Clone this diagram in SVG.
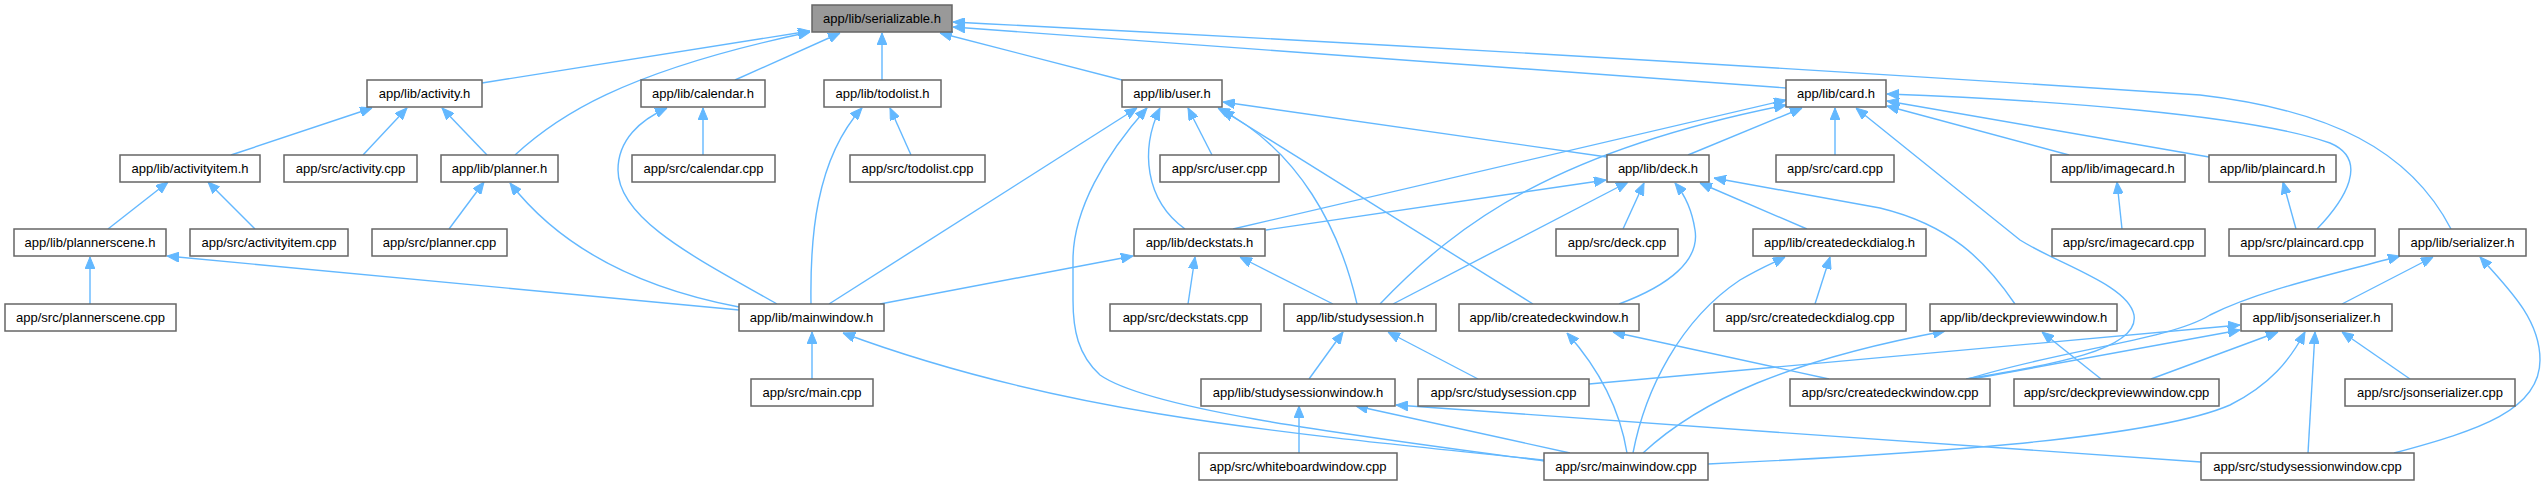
<svg xmlns="http://www.w3.org/2000/svg" width="2545" height="485" viewBox="0 0 2545 485">
<style>
.n rect{fill:#fff;stroke:#666;stroke-width:1.5}
.n.root rect{fill:#999}
.n text{font-family:"Liberation Sans",Arial,sans-serif;font-size:13px;fill:#000;text-anchor:middle}
.e path{fill:none;stroke:#63b8ff;stroke-width:1.4;marker-end:url(#ah)}
</style>
<defs>
<marker id="ah" markerUnits="userSpaceOnUse" markerWidth="12" markerHeight="10" viewBox="0 0 12 10" refX="12" refY="5" orient="auto">
<path d="M0,0 L12,5 L0,10 z" fill="#63b8ff" stroke="#63b8ff" stroke-width="1"/>
</marker>
</defs>
<rect width="2545" height="485" fill="#fff"/>
<g id="edges" class="e">
<path d="M482,83 L810,31"/>
<path d="M515,155 C555,118 620,72 810,32"/>
<path d="M735,80 L840,33"/>
<path d="M882,80 L882,33"/>
<path d="M1122,80 L940,33"/>
<path d="M1786,88 L953,27"/>
<path d="M2451,229 C2410,150 2330,110 2200,95 C2050,85 1600,55 953,22"/>
<path d="M231,155 L372,108"/>
<path d="M363,155 L407,108"/>
<path d="M487,155 L442,108"/>
<path d="M108,229 L168,182"/>
<path d="M255,229 L208,182"/>
<path d="M449,229 L484,182"/>
<path d="M739,307 C660,292 570,260 510,183"/>
<path d="M90,304 L90,257"/>
<path d="M739,310 L167,256"/>
<path d="M703,155 L703,108"/>
<path d="M777,304 C700,260 618,220 618,170 C618,140 640,120 667,108"/>
<path d="M911,155 L890,108"/>
<path d="M811,304 C810,240 815,160 862,108"/>
<path d="M829,304 L1137,108"/>
<path d="M1544,461 C1350,435 1150,410 1100,375 C1078,355 1073,330 1073,300 L1073,260 C1073,210 1105,155 1147,108"/>
<path d="M1185,229 C1145,200 1140,150 1160,108"/>
<path d="M1212,155 L1188,108"/>
<path d="M1357,304 C1340,230 1300,150 1218,108"/>
<path d="M1533,304 L1222,110"/>
<path d="M1607,157 L1223,102"/>
<path d="M880,304 L1133,256"/>
<path d="M812,379 L812,332"/>
<path d="M1544,460 C1250,430 1050,410 843,333"/>
<path d="M1188,304 L1195,257"/>
<path d="M1333,304 L1240,257"/>
<path d="M1233,229 L1786,100"/>
<path d="M1380,304 C1460,220 1560,150 1786,105"/>
<path d="M1688,155 L1802,108"/>
<path d="M1835,155 L1835,108"/>
<path d="M2069,155 L1887,106"/>
<path d="M2209,157 L1887,101"/>
<path d="M2317,229 C2345,200 2370,160 2330,143 C2250,115 2050,100 1887,94"/>
<path d="M1966,379 C2050,365 2140,350 2134,315 C2128,285 2060,265 2020,240 L1856,108"/>
<path d="M1266,230 L1606,180"/>
<path d="M1393,304 L1628,182"/>
<path d="M1623,229 L1644,183"/>
<path d="M1619,304 C1670,285 1700,260 1695,230 C1692,210 1685,195 1675,183"/>
<path d="M1807,229 L1700,183"/>
<path d="M2015,304 C1985,260 1950,225 1880,208 L1714,178"/>
<path d="M2122,229 L2117,182"/>
<path d="M2296,229 L2283,182"/>
<path d="M1309,379 L1343,332"/>
<path d="M1478,379 L1388,332"/>
<path d="M1627,453 C1620,410 1600,370 1567,333"/>
<path d="M1829,379 L1613,332"/>
<path d="M1815,304 L1830,257"/>
<path d="M1633,453 C1645,390 1680,320 1740,280 C1760,268 1775,262 1785,257"/>
<path d="M1299,453 L1299,406"/>
<path d="M1570,453 L1356,406"/>
<path d="M2201,462 C2000,448 1600,420 1396,405"/>
<path d="M1643,453 C1700,400 1790,360 1945,331"/>
<path d="M2101,379 L2042,332"/>
<path d="M1968,379 C2060,350 2170,340 2210,315 C2260,290 2330,275 2400,256"/>
<path d="M2342,304 L2433,257"/>
<path d="M2394,453 C2480,430 2540,410 2540,360 C2540,320 2510,290 2480,257"/>
<path d="M1972,379 L2240,330"/>
<path d="M1589,384 L2240,325"/>
<path d="M2151,379 L2278,332"/>
<path d="M1708,464 C1900,455 2150,440 2230,405 C2270,385 2290,360 2305,332"/>
<path d="M2308,453 L2315,332"/>
<path d="M2410,379 L2342,332"/>
</g>
<g id="n_serializable" class="n root"><rect x="812" y="5" width="140" height="27"/><text x="882" y="23">app/lib/serializable.h</text></g>
<g id="n_activity_h" class="n"><rect x="367" y="80" width="115" height="27"/><text x="424.5" y="98">app/lib/activity.h</text></g>
<g id="n_calendar_h" class="n"><rect x="641" y="80" width="124" height="27"/><text x="703" y="98">app/lib/calendar.h</text></g>
<g id="n_todolist_h" class="n"><rect x="824" y="80" width="117" height="27"/><text x="882.5" y="98">app/lib/todolist.h</text></g>
<g id="n_user_h" class="n"><rect x="1122" y="80" width="100" height="27"/><text x="1172" y="98">app/lib/user.h</text></g>
<g id="n_card_h" class="n"><rect x="1786" y="80" width="100" height="27"/><text x="1836" y="98">app/lib/card.h</text></g>
<g id="n_activityitem_h" class="n"><rect x="120" y="155" width="140" height="27"/><text x="190" y="173">app/lib/activityitem.h</text></g>
<g id="n_activity_cpp" class="n"><rect x="284" y="155" width="133" height="27"/><text x="350.5" y="173">app/src/activity.cpp</text></g>
<g id="n_planner_h" class="n"><rect x="441" y="155" width="117" height="27"/><text x="499.5" y="173">app/lib/planner.h</text></g>
<g id="n_calendar_cpp" class="n"><rect x="632" y="155" width="143" height="27"/><text x="703.5" y="173">app/src/calendar.cpp</text></g>
<g id="n_todolist_cpp" class="n"><rect x="850" y="155" width="135" height="27"/><text x="917.5" y="173">app/src/todolist.cpp</text></g>
<g id="n_user_cpp" class="n"><rect x="1160" y="155" width="119" height="27"/><text x="1219.5" y="173">app/src/user.cpp</text></g>
<g id="n_deck_h" class="n"><rect x="1607" y="155" width="102" height="27"/><text x="1658" y="173">app/lib/deck.h</text></g>
<g id="n_card_cpp" class="n"><rect x="1776" y="155" width="118" height="27"/><text x="1835" y="173">app/src/card.cpp</text></g>
<g id="n_imagecard_h" class="n"><rect x="2051" y="155" width="134" height="27"/><text x="2118" y="173">app/lib/imagecard.h</text></g>
<g id="n_plaincard_h" class="n"><rect x="2209" y="155" width="127" height="27"/><text x="2272.5" y="173">app/lib/plaincard.h</text></g>
<g id="n_plannerscene_h" class="n"><rect x="14" y="229" width="152" height="27"/><text x="90" y="247">app/lib/plannerscene.h</text></g>
<g id="n_activityitem_cpp" class="n"><rect x="190" y="229" width="158" height="27"/><text x="269" y="247">app/src/activityitem.cpp</text></g>
<g id="n_planner_cpp" class="n"><rect x="372" y="229" width="135" height="27"/><text x="439.5" y="247">app/src/planner.cpp</text></g>
<g id="n_deckstats_h" class="n"><rect x="1134" y="229" width="131" height="27"/><text x="1199.5" y="247">app/lib/deckstats.h</text></g>
<g id="n_deck_cpp" class="n"><rect x="1556" y="229" width="122" height="27"/><text x="1617" y="247">app/src/deck.cpp</text></g>
<g id="n_createdeckdialog_h" class="n"><rect x="1753" y="229" width="173" height="27"/><text x="1839.5" y="247">app/lib/createdeckdialog.h</text></g>
<g id="n_imagecard_cpp" class="n"><rect x="2052" y="229" width="153" height="27"/><text x="2128.5" y="247">app/src/imagecard.cpp</text></g>
<g id="n_plaincard_cpp" class="n"><rect x="2229" y="229" width="146" height="27"/><text x="2302" y="247">app/src/plaincard.cpp</text></g>
<g id="n_serializer_h" class="n"><rect x="2399" y="229" width="127" height="27"/><text x="2462.5" y="247">app/lib/serializer.h</text></g>
<g id="n_plannerscene_cpp" class="n"><rect x="5" y="304" width="171" height="27"/><text x="90.5" y="322">app/src/plannerscene.cpp</text></g>
<g id="n_mainwindow_h" class="n"><rect x="739" y="304" width="145" height="27"/><text x="811.5" y="322">app/lib/mainwindow.h</text></g>
<g id="n_deckstats_cpp" class="n"><rect x="1110" y="304" width="151" height="27"/><text x="1185.5" y="322">app/src/deckstats.cpp</text></g>
<g id="n_studysession_h" class="n"><rect x="1284" y="304" width="152" height="27"/><text x="1360" y="322">app/lib/studysession.h</text></g>
<g id="n_createdeckwindow_h" class="n"><rect x="1459" y="304" width="180" height="27"/><text x="1549" y="322">app/lib/createdeckwindow.h</text></g>
<g id="n_createdeckdialog_cpp" class="n"><rect x="1714" y="304" width="192" height="27"/><text x="1810" y="322">app/src/createdeckdialog.cpp</text></g>
<g id="n_deckpreviewwindow_h" class="n"><rect x="1930" y="304" width="187" height="27"/><text x="2023.5" y="322">app/lib/deckpreviewwindow.h</text></g>
<g id="n_jsonserializer_h" class="n"><rect x="2241" y="304" width="151" height="27"/><text x="2316.5" y="322">app/lib/jsonserializer.h</text></g>
<g id="n_main_cpp" class="n"><rect x="751" y="379" width="122" height="27"/><text x="812" y="397">app/src/main.cpp</text></g>
<g id="n_studysessionwindow_h" class="n"><rect x="1201" y="379" width="194" height="27"/><text x="1298" y="397">app/lib/studysessionwindow.h</text></g>
<g id="n_studysession_cpp" class="n"><rect x="1418" y="379" width="171" height="27"/><text x="1503.5" y="397">app/src/studysession.cpp</text></g>
<g id="n_createdeckwindow_cpp" class="n"><rect x="1790" y="379" width="200" height="27"/><text x="1890" y="397">app/src/createdeckwindow.cpp</text></g>
<g id="n_deckpreviewwindow_cpp" class="n"><rect x="2014" y="379" width="205" height="27"/><text x="2116.5" y="397">app/src/deckpreviewwindow.cpp</text></g>
<g id="n_jsonserializer_cpp" class="n"><rect x="2345" y="379" width="170" height="27"/><text x="2430" y="397">app/src/jsonserializer.cpp</text></g>
<g id="n_whiteboardwindow_cpp" class="n"><rect x="1199" y="453" width="198" height="27"/><text x="1298" y="471">app/src/whiteboardwindow.cpp</text></g>
<g id="n_mainwindow_cpp" class="n"><rect x="1544" y="453" width="164" height="27"/><text x="1626" y="471">app/src/mainwindow.cpp</text></g>
<g id="n_studysessionwindow_cpp" class="n"><rect x="2201" y="453" width="213" height="27"/><text x="2307.5" y="471">app/src/studysessionwindow.cpp</text></g>
</svg>
